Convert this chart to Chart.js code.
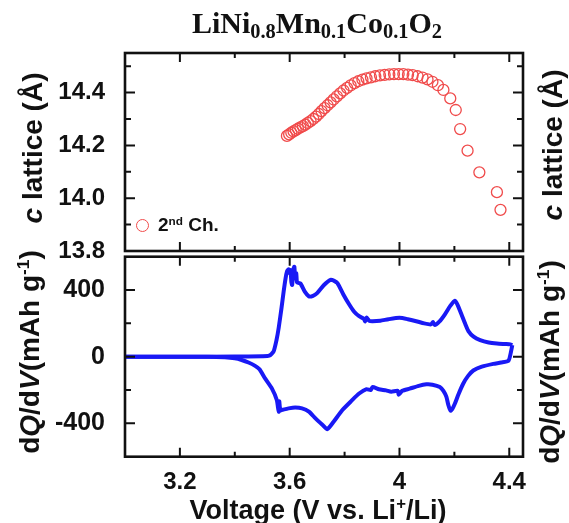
<!DOCTYPE html>
<html>
<head>
<meta charset="utf-8">
<script src="https://cdn.jsdelivr.net/npm/chart.js@4.4.1/dist/chart.umd.min.js"></script>
<style>
  body { margin: 0; background: #fff; }
  #wrap { position: relative; width: 569px; height: 523px; overflow: hidden; font-family: "Liberation Sans", Arial, sans-serif; }
  canvas { position: absolute; left: 0; }
  .lbl { position: absolute; white-space: nowrap; font-weight: bold; color: #111; }
  .rot { transform: translate(-50%, -50%) rotate(-90deg); font-size: 28px; }
  .title { font-family: "Liberation Serif", "Times New Roman", serif; font-size: 30px; left: 317px; top: 6px; transform: translateX(-50%); }
  .title sub { font-size: 68%; vertical-align: -0.25em; }
  sup { font-size: 62%; vertical-align: 0.55em; line-height: 0; }
  #legDot { position: absolute; width: 11px; height: 11px; border: 1.4px solid rgb(240,75,75); border-radius: 50%; left: 136px; top: 219px; }
</style>
</head>
<body>
<div id="wrap">
  <canvas id="top" width="569" height="262" style="top:0"></canvas>
  <canvas id="bot" width="569" height="273" style="top:250px"></canvas>

  <div class="lbl title">LiNi<sub>0.8</sub>Mn<sub>0.1</sub>Co<sub>0.1</sub>O<sub>2</sub></div>
  <div class="lbl rot" style="left:33px; top:148px"><i>c</i> lattice (Å)</div>
  <div class="lbl rot" style="left:553px; top:145px"><i>c</i> lattice (Å)</div>
  <div class="lbl rot" style="left:30px; top:352px">d<i>Q</i>/d<i>V</i>(mAh g<sup>-1</sup>)</div>
  <div class="lbl rot" style="left:550px; top:362px">d<i>Q</i>/d<i>V</i>(mAh g<sup>-1</sup>)</div>
  <div class="lbl" style="left:318px; top:510px; transform:translate(-50%,-50%); font-size:27px">Voltage (V vs. Li<sup>+</sup>/Li)</div>
  <div id="legDot"></div>
  <div class="lbl" style="left:158px; top:214px; font-size:19px">2<sup>nd</sup> Ch.</div>
</div>

<script>
// c lattice during 2nd charge
const voltC = [3.590, 3.598, 3.606, 3.614, 3.622, 3.630, 3.639, 3.648, 3.657, 3.666,
  3.676, 3.686, 3.696, 3.706, 3.716, 3.727, 3.738, 3.749, 3.760, 3.772,
  3.784, 3.796, 3.809, 3.822, 3.836, 3.850, 3.865, 3.880, 3.896, 3.912,
  3.929, 3.946, 3.963, 3.980, 3.997, 4.014, 4.031, 4.048, 4.066, 4.084,
  4.102, 4.120, 4.140, 4.160, 4.185, 4.205, 4.221, 4.248, 4.291, 4.355, 4.368];
const cLattice = [14.236, 14.242, 14.248, 14.253, 14.258, 14.263, 14.268, 14.273, 14.279, 14.285,
  14.292, 14.300, 14.309, 14.319, 14.330, 14.341, 14.352, 14.363, 14.374, 14.386,
  14.397, 14.408, 14.418, 14.427, 14.436, 14.443, 14.449, 14.454, 14.458, 14.462,
  14.465, 14.467, 14.469, 14.470, 14.470, 14.470, 14.468, 14.466, 14.462, 14.457,
  14.450, 14.441, 14.428, 14.410, 14.378, 14.334, 14.262, 14.180, 14.098, 14.023, 13.956];

// dQ/dV, charge branch then discharge branch
const chargeV = [3.00, 3.20, 3.40, 3.50, 3.525, 3.541, 3.552, 3.560, 3.570, 3.578,
  3.585, 3.590, 3.596, 3.600, 3.603, 3.606, 3.609, 3.613, 3.617, 3.620,
  3.624, 3.627, 3.639, 3.655, 3.670, 3.685, 3.700, 3.725, 3.749, 3.762,
  3.774, 3.795, 3.817, 3.835, 3.853, 3.870, 3.875, 3.880, 3.890, 3.902,
  3.930, 3.960, 4.000, 4.030, 4.061, 4.090, 4.115, 4.122, 4.128, 4.145,
  4.165, 4.185, 4.202, 4.212, 4.226, 4.240, 4.251, 4.270, 4.294, 4.325,
  4.355, 4.385, 4.404, 4.411];
const chargeQ = [0, 0, 1, 3, 6, 30, 100, 174, 290, 391,
  470, 510, 525, 500, 520, 450, 430, 520, 540, 470,
  500, 445, 440, 390, 362, 365, 381, 430, 461, 455,
  441, 375, 313, 270, 243, 228, 212, 235, 215, 213,
  216, 225, 233, 225, 213, 200, 194, 208, 190, 210,
  253, 305, 336, 310, 253, 195, 154, 120, 99, 85,
  79, 76, 74, 69];
const dischargeV = [4.411, 4.405, 4.397, 4.370, 4.342, 4.300, 4.269, 4.250, 4.232, 4.215,
  4.202, 4.192, 4.186, 4.178, 4.171, 4.160, 4.147, 4.120, 4.098, 4.070,
  4.037, 4.010, 3.997, 3.994, 3.970, 3.951, 3.925, 3.902, 3.895, 3.880,
  3.853, 3.825, 3.792, 3.760, 3.737, 3.720, 3.694, 3.670, 3.645, 3.620,
  3.596, 3.575, 3.566, 3.562, 3.560, 3.553, 3.535, 3.511, 3.490, 3.474,
  3.450, 3.425, 3.400, 3.364, 3.30, 3.00];
const dischargeQ = [69, 20, -24, -35, -43, -60, -83, -115, -162, -225,
  -281, -315, -324, -290, -241, -205, -182, -168, -166, -175,
  -192, -205, -228, -205, -210, -202, -195, -182, -200, -195,
  -221, -265, -320, -390, -435, -410, -370, -330, -310, -305,
  -310, -318, -322, -268, -330, -260, -190, -132, -75, -55,
  -35, -20, -10, -4, -1, 0];

// axis ticks
const xMajor = [3.2, 3.6, 4.0, 4.4];
const xMinor = [3.4, 3.8, 4.2];
const cMajor = [13.8, 14.0, 14.2, 14.4];
const cMinor = [13.9, 14.1, 14.3, 14.5];
const qMajor = [-400, 0, 400];
const qMinor = [-200, 200];

const pts = (xs, ys) => xs.map((x, i) => ({ x: x, y: ys[i] }));
const tickFont = { family: "'Liberation Sans', Arial, sans-serif", weight: 'bold', size: 24 };

// frame box plus inward ticks on all four sides
const frameTicks = {
  id: 'frameTicks',
  afterDraw(chart, args, opts) {
    const ctx = chart.ctx, a = chart.chartArea;
    const xs = chart.scales.x, ys = chart.scales.y;
    ctx.save();
    ctx.strokeStyle = '#111';
    ctx.lineWidth = 2;
    const tick = (list, len) => {
      list.forEach(v => {
        const px = xs.getPixelForValue(v);
        ctx.beginPath();
        ctx.moveTo(px, a.bottom); ctx.lineTo(px, a.bottom - len);
        ctx.moveTo(px, a.top); ctx.lineTo(px, a.top + len);
        ctx.stroke();
      });
    };
    const tickY = (list, len) => {
      list.forEach(v => {
        const py = ys.getPixelForValue(v);
        ctx.beginPath();
        ctx.moveTo(a.left, py); ctx.lineTo(a.left + len, py);
        ctx.moveTo(a.right, py); ctx.lineTo(a.right - len, py);
        ctx.stroke();
      });
    };
    tick(xMajor, 9); tick(xMinor, 5);
    tickY(opts.major, 10); tickY(opts.minor, 6);
    ctx.lineWidth = 2.6;
    ctx.strokeRect(a.left, a.top, a.right - a.left, a.bottom - a.top);
    ctx.restore();
  }
};

const hidden = { display: false };
// fixed box sizes so both plot areas line up
const fixW = w => s => { s.width = w; s.paddingTop = 0; s.paddingBottom = 0; };
const fixH = h => s => { s.height = h; s.paddingLeft = 0; s.paddingRight = 0; };

new Chart(document.getElementById('top'), {
  type: 'scatter',
  data: {
    datasets: [{
      data: pts(voltC, cLattice),
      pointRadius: 5.5,
      pointBorderWidth: 1.3,
      borderColor: 'rgb(240,75,75)',
      backgroundColor: 'rgba(0,0,0,0)'
    }]
  },
  options: {
    responsive: false,
    animation: false,
    layout: { padding: { top: 53, bottom: 11, left: 0, right: 0 } },
    plugins: {
      legend: hidden,
      tooltip: { enabled: false },
      frameTicks: { major: cMajor, minor: cMinor }
    },
    scales: {
      x: {
        type: 'linear', min: 3.0, max: 4.45,
        ticks: hidden, grid: hidden, border: hidden,
        afterFit: fixH(0)
      },
      y: {
        min: 13.8, max: 14.55,
        afterBuildTicks: s => { s.ticks = cMajor.map(v => ({ value: v })); },
        ticks: { font: tickFont, color: '#111', padding: 12, callback: v => v.toFixed(1) },
        grid: hidden, border: hidden,
        afterFit: fixW(125)
      },
      yR: {
        position: 'right', min: 13.8, max: 14.55,
        ticks: hidden, grid: hidden, border: hidden,
        afterFit: fixW(46)
      }
    }
  },
  plugins: [frameTicks]
});

const blue = 'rgb(25,25,245)';

new Chart(document.getElementById('bot'), {
  type: 'scatter',
  data: {
    datasets: [
      { data: pts(chargeV, chargeQ), showLine: true, borderColor: blue, borderWidth: 4, pointRadius: 0, tension: 0.2 },
      { data: pts(dischargeV, dischargeQ), showLine: true, borderColor: blue, borderWidth: 4, pointRadius: 0, tension: 0.2 }
    ]
  },
  options: {
    responsive: false,
    animation: false,
    layout: { padding: { top: 6.7, bottom: 0, left: 0, right: 0 } },
    plugins: {
      legend: hidden,
      tooltip: { enabled: false },
      frameTicks: { major: qMajor, minor: qMinor }
    },
    scales: {
      x: {
        type: 'linear', min: 3.0, max: 4.45,
        afterBuildTicks: s => { s.ticks = xMajor.map(v => ({ value: v })); },
        ticks: { font: tickFont, color: '#111', padding: 3, maxRotation: 0, callback: v => String(v) },
        grid: hidden, border: hidden,
        afterFit: fixH(66.3)
      },
      y: {
        min: -600, max: 600,
        afterBuildTicks: s => { s.ticks = qMajor.map(v => ({ value: v })); },
        ticks: { font: { family: tickFont.family, weight: 'bold', size: 25 }, color: '#111', padding: 12, callback: v => String(v) },
        grid: hidden, border: hidden,
        afterFit: fixW(125)
      },
      yR: {
        position: 'right', min: -600, max: 600,
        ticks: hidden, grid: hidden, border: hidden,
        afterFit: fixW(46)
      }
    }
  },
  plugins: [frameTicks]
});
</script>
</body>
</html>
